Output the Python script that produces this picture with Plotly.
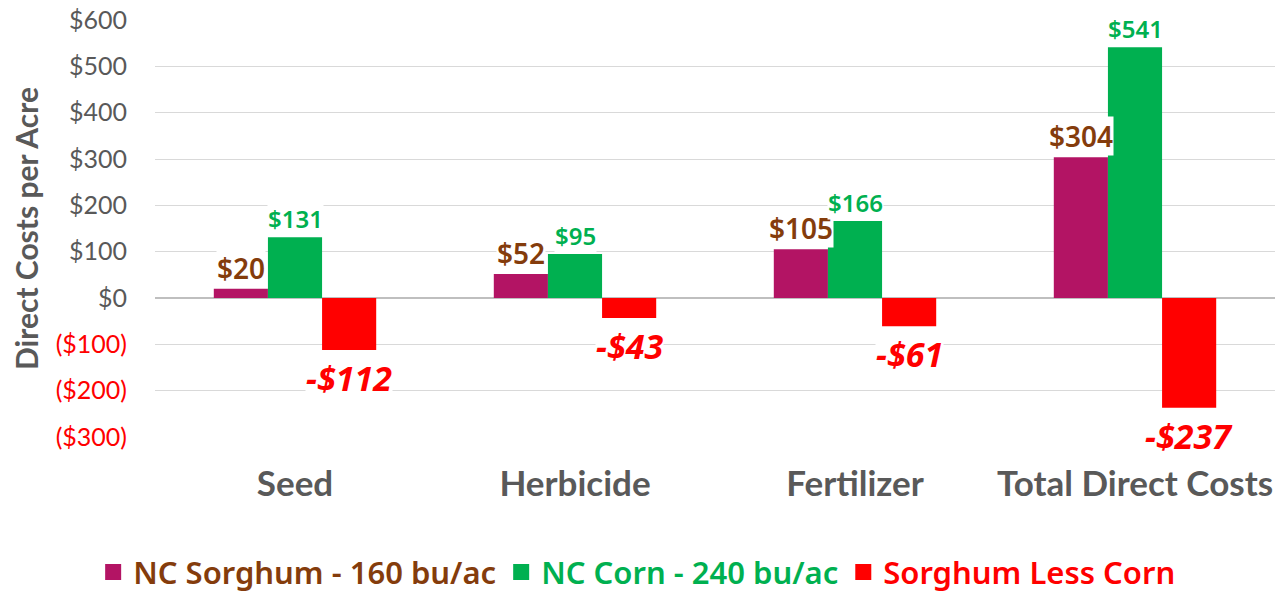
import plotly.graph_objects as go

categories = ["Seed", "Herbicide", "Fertilizer", "Total Direct Costs"]
sorghum = [20, 52, 105, 304]
corn = [131, 95, 166, 541]
difference = [-112, -43, -61, -237]
y_ticks = [600, 500, 400, 300, 200, 100, 0, -100, -200, -300]

series = [
    ("NC Sorghum - 160 bu/ac", sorghum, "#B31464", "#843C0C"),
    ("NC Corn - 240 bu/ac", corn, "#00B050", "#00B050"),
    ("Sorghum Less Corn", difference, "#FF0000", "#FF0000"),
]

GAP = 0.42
BAR_W = (1 - GAP) / 3


def tick_text(v):
    if v < 0:
        return f'<span style="color:#FF0000">(${-v})</span>'
    return f"${v}"


fig = go.Figure()
x = list(range(len(categories)))
for name, values, color, text_color in series:
    fig.add_bar(
        x=x,
        y=values,
        name=name,
        marker=dict(color=color, line=dict(width=0)),
        showlegend=False,
    )
# legend entries with bigger square swatches
for name, values, color, text_color in series:
    fig.add_scatter(
        x=[None],
        y=[None],
        mode="markers",
        name=f'<span style="color:{text_color}">{name}</span>',
        marker=dict(symbol="square", size=20, color=color),
    )

annotations = []
for j, (name, values, color, text_color) in enumerate(series):
    for i, v in enumerate(values):
        xpos = i + (j - 1) * BAR_W
        if j == 0:
            txt, size, yshift, anchor, weight = f"${v}", 28, 1, "bottom", 600
        elif j == 1:
            txt, size, yshift, anchor, weight = f"${v}", 24, 1, "bottom", 600
        else:
            txt, size, yshift, anchor, weight = f"<i>-${-v}</i>", 34, -4, "top", 700
        annotations.append(dict(
            x=xpos, y=v, text=txt, showarrow=False,
            yanchor=anchor, yshift=yshift,
            font=dict(size=size, color=text_color, family="Noto Sans", weight=weight),
            bgcolor="white", borderpad=0,
        ))

# the page body adds an 8px offset, so margins are shifted to compensate
fig.update_layout(
    width=1284,
    height=594,
    barmode="group",
    bargap=GAP,
    bargroupgap=0,
    plot_bgcolor="white",
    paper_bgcolor="white",
    margin=dict(l=147, r=17, t=12, b=165),
    font=dict(family="Lato", color="#595959"),
    annotations=annotations,
    legend=dict(
        orientation="h",
        xref="container", x=0.49, xanchor="center",
        yref="container", y=0.05, yanchor="middle",
        font=dict(size=31, family="Noto Sans", weight=600),
        traceorder="normal",
        itemwidth=30,
        entrywidthmode="pixels",
    ),
)
fig.update_xaxes(
    tickvals=x,
    ticktext=categories,
    range=[-0.5, len(categories) - 0.5],
    tickfont=dict(size=35, color="#595959", family="Lato", weight="bold"),
    showgrid=False,
    zeroline=False,
    ticks="",
    ticklabelstandoff=23,
    automargin=False,
)
fig.update_yaxes(
    range=[-300, 600],
    tickvals=y_ticks,
    ticktext=[tick_text(v) for v in y_ticks],
    tickfont=dict(size=25, color="#595959", family="Lato"),
    ticklabeloverflow="allow",
    showgrid=True,
    gridcolor="#D9D9D9",
    gridwidth=1,
    zeroline=True,
    zerolinecolor="#BFBFBF",
    zerolinewidth=2,
    ticklabelstandoff=27,
    automargin=False,
    title=dict(
        text="Direct Costs per Acre",
        font=dict(size=30, color="#595959", family="Lato", weight="bold"),
        standoff=8,
    ),
)

fig.write_html("out.html")
